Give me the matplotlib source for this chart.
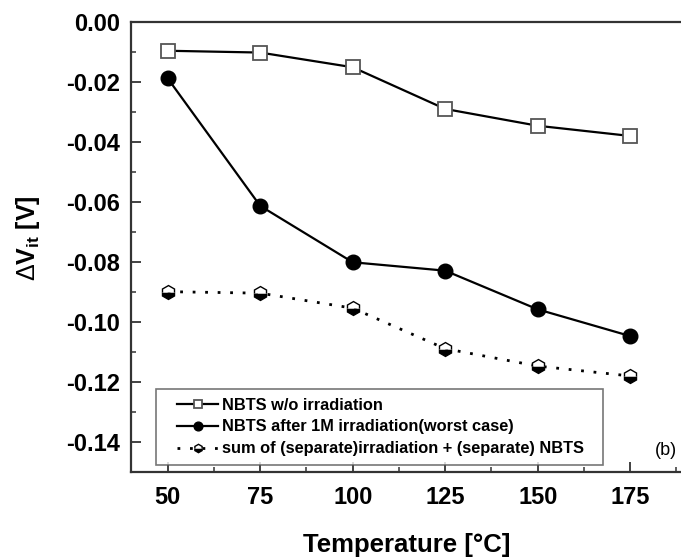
import matplotlib
matplotlib.use("Agg")
import matplotlib.pyplot as plt
from matplotlib.ticker import MultipleLocator
from matplotlib.legend_handler import HandlerLine2D
from matplotlib.lines import Line2D

plt.rcParams['font.family'] = ['Liberation Sans', 'DejaVu Sans']
plt.rcParams['mathtext.fontset'] = 'custom'
plt.rcParams['mathtext.rm'] = 'Liberation Sans'
plt.rcParams['mathtext.bf'] = 'Liberation Sans:bold'
plt.rcParams['mathtext.it'] = 'Liberation Sans:italic'

temperature = [50, 75, 100, 125, 150, 175]
nbts_wo_irr = [-0.0097, -0.0103, -0.0152, -0.0291, -0.0347, -0.0381]
nbts_after_irr = [-0.0189, -0.0614, -0.0802, -0.0830, -0.0959, -0.1048]
sum_separate = [-0.0900, -0.0905, -0.0955, -0.1090, -0.1148, -0.1181]

labels = ["NBTS w/o irradiation",
          "NBTS after 1M irradiation(worst case)",
          "sum of (separate)irradiation + (separate) NBTS"]
ytick_values = [0.0, -0.02, -0.04, -0.06, -0.08, -0.10, -0.12, -0.14]
ytick_labels = ['0.00', '-0.02', '-0.04', '-0.06', '-0.08', '-0.10', '-0.12', '-0.14']

fig = plt.figure(figsize=(6.81, 5.58), dpi=100)
ax = fig.add_axes([0.1919, 0.1547, 0.815, 0.8065])

ax.plot(temperature, nbts_wo_irr, '-', color='black', lw=1.6,
        marker='s', ms=9.5, mfc='white', mec='#555555', mew=1.3, label=labels[0])
ax.plot(temperature, nbts_after_irr, '-', color='black', lw=1.6,
        marker='o', ms=10.5, mfc='black', mec='black', label=labels[1])
ax.plot(temperature, sum_separate, linestyle=(0, (1, 3.5)), color='black', lw=2.0,
        marker='h', ms=10, fillstyle='bottom', mfc='black', mfcalt='white',
        mec='black', mew=1.0, label=labels[2])

ax.set_xlim(40, 190)
ax.set_ylim(-0.15, 0.0)
ax.xaxis.set_minor_locator(MultipleLocator(12.5))
ax.yaxis.set_minor_locator(MultipleLocator(0.01))
ax.set_xticks(temperature)
ax.set_yticks(ytick_values)
ax.set_yticklabels(ytick_labels)

ax.tick_params(which='both', direction='in', top=False, right=False, color='#333333')
ax.tick_params(which='major', length=7, width=1.3, labelsize=17, pad=7.5)
ax.tick_params(which='minor', length=3.5, width=1.1)
for lab in ax.get_xticklabels() + ax.get_yticklabels():
    lab.set_fontweight('bold')
ax.tick_params(axis='x', pad=10)
for sp in ax.spines.values():
    sp.set_linewidth(1.6)
    sp.set_color('#333333')

ax.set_xlabel('Temperature [°C]', fontsize=18.5, fontweight='bold')
ax.xaxis.set_label_coords(0.497, -0.137)
ax.set_ylabel(r'$\Delta\mathbf{V}_{\mathbf{it}}$ [V]', fontsize=18, fontweight='bold')
ax.yaxis.set_label_coords(-0.16, 0.52)

leg = ax.legend(loc='lower left', bbox_to_anchor=(0.0456, 0.0158, 0.806, 0.17),
                mode='expand', borderaxespad=0, frameon=True, fancybox=False,
                prop={'weight': 'bold', 'size': 11.8}, handlelength=3.3,
                handletextpad=0.2, labelspacing=0.42, markerscale=0.6,
                borderpad=0.5,
                handler_map={Line2D: HandlerLine2D(xpad=0.8)})
leg.get_frame().set_edgecolor('#555555')
leg.get_frame().set_linewidth(1.2)

ax.text(0.985, 0.048, '(b)', transform=ax.transAxes, fontsize=13, ha='right', va='center')

fig.savefig('out.png', dpi=100)
